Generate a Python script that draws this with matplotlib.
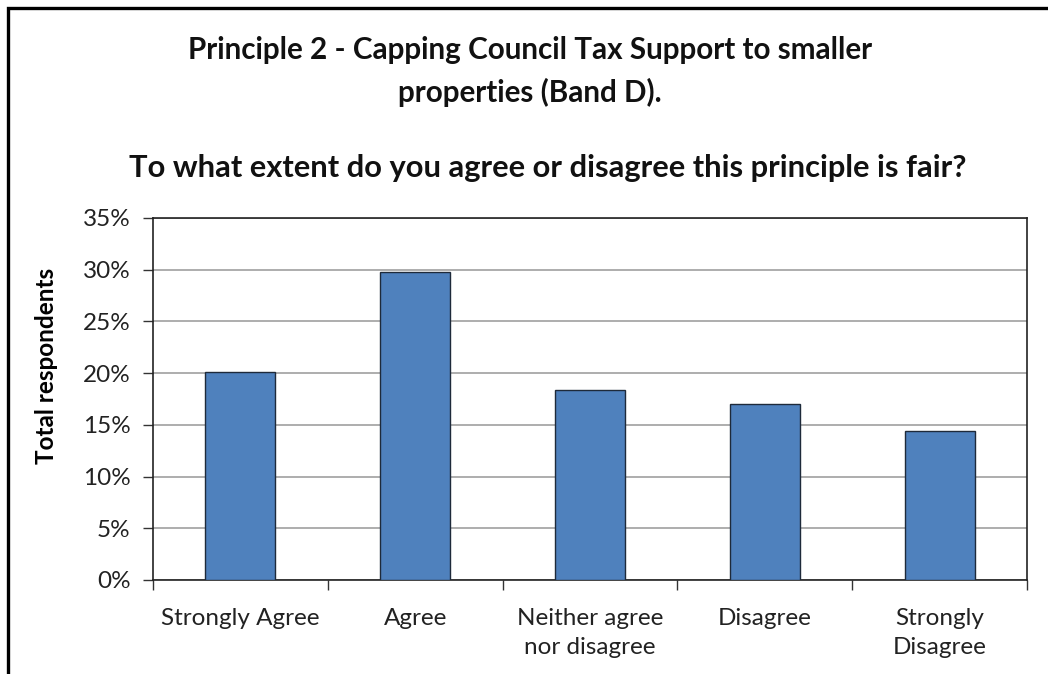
import numpy as np
import matplotlib
matplotlib.use("Agg")
import matplotlib.pyplot as plt
from matplotlib.patches import Rectangle
from matplotlib.ticker import FuncFormatter, MultipleLocator

# ── Data ──────────────────────────────────────────────────────────────────────
categories = ["Strongly Agree", "Agree", "Neither agree\nnor disagree",
              "Disagree", "Strongly\nDisagree"]
shares = [20.1, 29.8, 18.4, 17.0, 14.4]   # % of total respondents

title_line1 = "Principle 2 - Capping Council Tax Support to smaller"
title_line2 = "properties (Band D)."
subtitle = "To what extent do you agree or disagree this principle is fair?"
y_label = "Total respondents"

plt.rcParams["font.family"] = ["Lato", "DejaVu Sans"]

W, H = 1048, 674
fig = plt.figure(figsize=(W / 100, H / 100), dpi=100)

# outer chart frame (only top and left edges are inside the picture)
fig.patches.append(Rectangle((8 / W, -0.1), 1.2, 1 - 8 / H + 0.1,
                             transform=fig.transFigure, fill=False,
                             edgecolor="black", lw=2.4))

# plot area in pixel coordinates
left, right, top, bottom = 153, 1027, 218, 580
ax = fig.add_axes([left / W, 1 - bottom / H, (right - left) / W, (bottom - top) / H])

x = np.arange(len(categories))
ax.bar(x, shares, width=0.4, color="#4F81BD", edgecolor="#1E2A3A", lw=1.0, zorder=3)

ax.set_xlim(-0.5, len(categories) - 0.5)
ax.set_ylim(0, 35)
ax.yaxis.set_major_locator(MultipleLocator(5))
ax.yaxis.set_major_formatter(FuncFormatter(lambda v, _: f"{v:.0f}%"))
ax.grid(axis="y", color="#A0A0A0", lw=1.2, zorder=0)

# category boundary ticks, labels at the centres
ax.set_xticks(np.arange(-0.5, len(categories)), minor=False)
ax.set_xticklabels([])
ax.set_xticks(x, minor=True)
ax.set_xticklabels(categories, minor=True, fontsize=17.5, color="#222222",
                   linespacing=1.5)
ax.tick_params(axis="x", which="major", direction="out", length=7, width=1, color="#333333")
ax.tick_params(axis="x", which="minor", length=0, pad=20)
ax.tick_params(axis="y", direction="out", length=7, width=1, color="#333333",
               labelsize=17.5, labelcolor="#222222", pad=9)

for s in ax.spines.values():
    s.set_color("#222222")
    s.set_linewidth(1.2)

ax.set_ylabel(y_label, fontsize=17.5, fontweight="bold")
ax.yaxis.set_label_coords(-0.109, 0.59)

fig.text(530 / W, 1 - 50 / H, title_line1, ha="center", va="center",
         fontsize=21.3, fontweight="bold", color="#111111")
fig.text(530 / W, 1 - 92 / H, title_line2, ha="center", va="center",
         fontsize=21.3, fontweight="bold", color="#111111")
fig.text(548 / W, 1 - 168 / H, subtitle, ha="center", va="center",
         fontsize=22.2, fontweight="bold", color="#111111")

fig.savefig("out.png", dpi=100, facecolor="white")
